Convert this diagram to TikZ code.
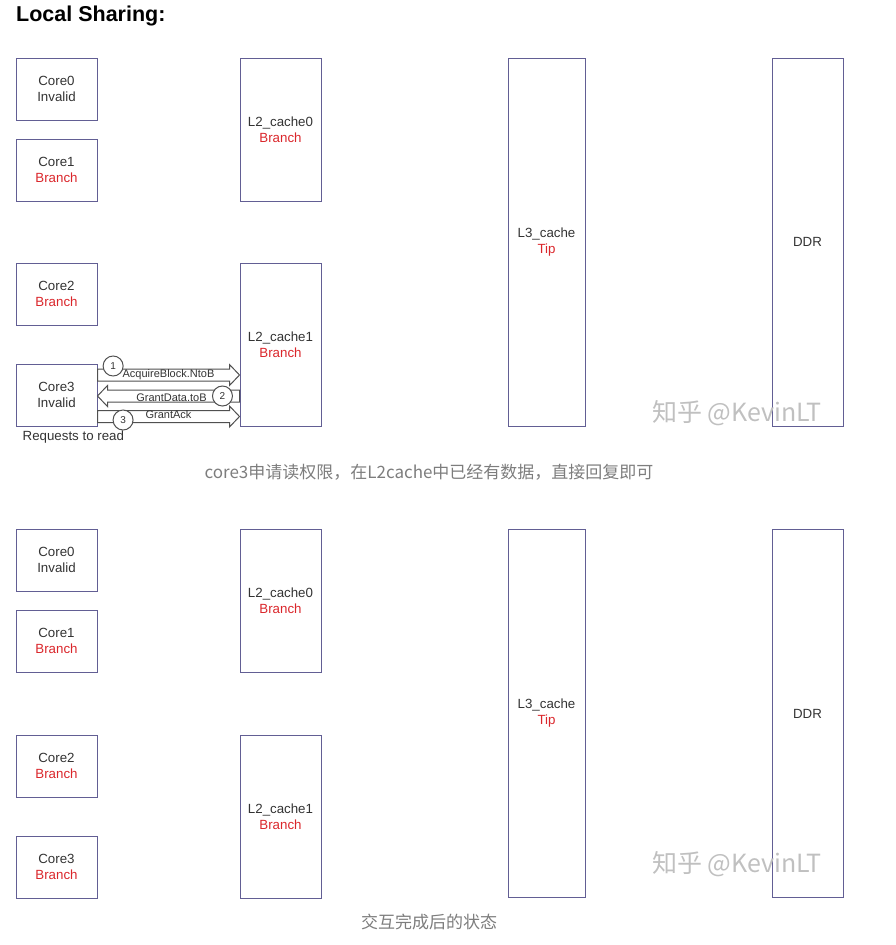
\documentclass[tikz,border=0pt]{standalone}
\usepackage{fontspec}
\setmainfont{Liberation Sans}
\newfontfamily\cjk{Noto Sans CJK SC}
\usetikzlibrary{calc}
\definecolor{boxc}{RGB}{98,94,148}
\definecolor{brch}{RGB}{218,38,43}
\definecolor{txt}{RGB}{51,51,51}
\definecolor{capc}{RGB}{125,125,125}
\definecolor{arrc}{RGB}{80,80,80}
\definecolor{wmc}{RGB}{192,192,192}

\begin{document}
\begin{tikzpicture}[x=1pt,y=-1pt,
  box/.style={draw=boxc,line width=1pt,align=center,text=txt,inner sep=0pt,font=\fontsize{13.3}{16}\selectfont},
  core node/.style={box,minimum width=81pt,minimum height=62pt},
  cache node/.style={box,minimum width=81pt},
  big node/.style={box,minimum height=368pt},
  block/.style={draw=arrc,line width=1pt,to path={let \p1=(\tikztostart),\p2=(\tikztotarget),\n1={sign(\x2-\x1)} in
    (\x1,\y1+6pt) -- (\x2-\n1*10pt,\y1+6pt) -- (\x2-\n1*10pt,\y1+10.5pt) -- (\x2,\y1)
    -- (\x2-\n1*10pt,\y1-10.5pt) -- (\x2-\n1*10pt,\y1-6pt) -- (\x1,\y1-6pt) -- cycle}},
  msg/.style={font=\fontsize{11}{13}\selectfont,text=txt,inner sep=0pt},
  num node/.style={circle,draw=arrc,line width=1pt,fill=white,minimum size=20pt,inner sep=0pt,font=\fontsize{10}{12}\selectfont,text=txt},
  caption node/.style={font=\cjk\fontsize{17}{20}\selectfont,text=capc},
  wm node/.style={font=\cjk\fontsize{25}{29}\selectfont,text=wmc}]

  \useasboundingbox (0,0) rectangle (895,945);

  \node[anchor=base west,inner sep=0pt,font=\bfseries\fontsize{21.5}{25}\selectfont] (title) at (16,21.5) {Local Sharing:};

  % before
  \node[core node] (c0) at (56.5,89) {Core0\\Invalid};
  \node[core node] (c1) at (56.5,170) {Core1\\{\color{brch}Branch}};
  \node[core node] (c2) at (56.5,294) {Core2\\{\color{brch}Branch}};
  \node[core node] (c3) at (56.5,395) {Core3\\Invalid};
  \node[cache node,minimum height=143pt] (L20) at (280.5,129.5) {L2\_cache0\\{\color{brch}Branch}};
  \node[cache node,minimum height=163pt] (L21) at (280.5,344.5) {L2\_cache1\\{\color{brch}Branch}};
  \node[big node,minimum width=77pt] (L3) at (546.5,242) {L3\_cache\\{\color{brch}Tip}};
  \node[big node,minimum width=71pt] (D) at (807.5,242) {DDR};
  \node[anchor=west,font=\fontsize{13.3}{16}\selectfont,text=txt,inner sep=0pt] (req) at ([xshift=7pt,yshift=-11pt]c3.south west) {Requests to read};

  \coordinate (a1) at ([yshift=20pt]c3.east);
  \coordinate (b1) at (a1 -| L21.west);
  \coordinate (a2) at ([yshift=-1pt]c3.east);
  \coordinate (b2) at (a2 -| L21.west);
  \coordinate (a3) at ([yshift=-21.5pt]c3.east);
  \coordinate (b3) at (a3 -| L21.west);

  \draw[block] (a1) to (b1);
  \draw[block] (b2) to (a2);
  \draw[block] (a3) to (b3);

  \path (a1) -- node[msg] {AcquireBlock.NtoB} node[num node,pos=.11,yshift=9pt] {1} (b1);
  \path (a2) -- node[msg,xshift=3pt,yshift=-1.5pt] {GrantData.toB} node[num node,pos=.88] {2} (b2);
  \path (a3) -- node[msg,yshift=2pt] {GrantAck} node[num node,pos=.18,yshift=-3.5pt] {3} (b3);

  \node[caption node] (cap1) at (429,472) {core3申请读权限，在L2cache中已经有数据，直接回复即可};
  \node[wm node] (wm1) at (737,413) {知乎 @KevinLT};

  % after
  \node[core node] (bc0) at (56.5,560) {Core0\\Invalid};
  \node[core node] (bc1) at (56.5,641) {Core1\\{\color{brch}Branch}};
  \node[core node] (bc2) at (56.5,766) {Core2\\{\color{brch}Branch}};
  \node[core node] (bc3) at (56.5,867) {Core3\\{\color{brch}Branch}};
  \node[cache node,minimum height=143pt] (bL20) at (280.5,600.5) {L2\_cache0\\{\color{brch}Branch}};
  \node[cache node,minimum height=163pt] (bL21) at (280.5,816.5) {L2\_cache1\\{\color{brch}Branch}};
  \node[big node,minimum width=77pt] (bL3) at (546.5,713.5) {L3\_cache\\{\color{brch}Tip}};
  \node[big node,minimum width=71pt] (bD) at (807.5,713.5) {DDR};

  \node[caption node] (cap2) at (429,922) {交互完成后的状态};
  \node[wm node] (wm2) at (737,864) {知乎 @KevinLT};
\end{tikzpicture}
\end{document}
